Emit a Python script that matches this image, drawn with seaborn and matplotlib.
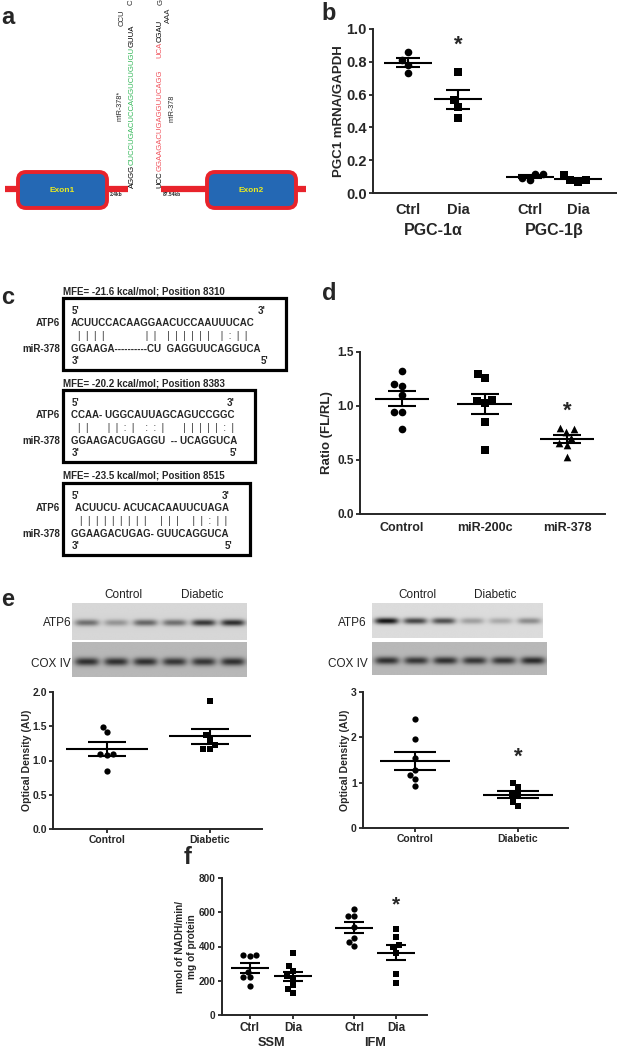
import numpy as np
import pandas as pd
import matplotlib
matplotlib.use("Agg")
import matplotlib.pyplot as plt
import seaborn as sns
from matplotlib.patches import FancyBboxPatch, Rectangle

# ---------------- data ----------------
# b: PGC1 mRNA / GAPDH
pgc_ticks = ["Ctrl", "Dia", "Ctrl", "Dia"]
pgc_genes = ["PGC-1\u03b1", "PGC-1\u03b2"]
pgc_ctrl_a = [0.86, 0.81, 0.73, 0.78]
pgc_dia_a = [0.735, 0.567, 0.527, 0.455]
pgc_ctrl_b = [0.114, 0.082, 0.090, 0.114]
pgc_dia_b = [0.082, 0.067, 0.082, 0.108]

# d: luciferase ratio (FL/RL)
luc_groups = ["Control", "miR-200c", "miR-378"]
luc_control = [1.32, 1.20, 1.185, 1.10, 0.94, 0.94, 0.785]
luc_mir200c = [1.295, 1.255, 1.06, 1.025, 1.05, 0.855, 0.595]
luc_mir378 = [0.80, 0.785, 0.755, 0.70, 0.655, 0.64, 0.53]

# e: ATP6 optical density, left (SSM) and right (IFM) blots
od_groups = ["Control", "Diabetic"]
od_left_control = [1.42, 1.49, 1.08, 1.09, 1.09, 0.85]
od_left_diabetic = [1.87, 1.37, 1.30, 1.23, 1.17, 1.17]
od_right_control = [2.41, 1.96, 1.54, 1.27, 1.16, 1.07, 0.93]
od_right_diabetic = [0.99, 0.90, 0.74, 0.72, 0.57, 0.48]

# band strength per lane (3 control, 3 diabetic)
blot_left_atp6 = [0.55, 0.35, 0.6, 0.55, 0.85, 0.9]
blot_left_cox = [0.75, 0.75, 0.75, 0.72, 0.72, 0.75]
blot_right_atp6 = [1.0, 0.75, 0.7, 0.3, 0.25, 0.4]
blot_right_cox = [0.75, 0.72, 0.75, 0.72, 0.72, 0.78]

# f: NADH oxidation
nadh_ticks = ["Ctrl", "Dia", "Ctrl", "Dia"]
nadh_fractions = ["SSM", "IFM"]
nadh_ssm_ctrl = [351, 351, 345, 254, 224, 220, 172]
nadh_ssm_dia = [364, 288, 259, 216, 228, 175, 152, 127]
nadh_ifm_ctrl = [619, 580, 580, 512, 452, 425, 403]
nadh_ifm_dia = [502, 454, 409, 395, 364, 240, 185]

# c: predicted ATP6 / miR-378 hybrids
hyb_mfe = ["MFE= -21.6 kcal/mol; Position 8310",
           "MFE= -20.2 kcal/mol; Position 8383",
           "MFE= -23.5 kcal/mol; Position 8515"]
hyb_atp6 = ["ACUUCCACAAGGAACUCCAAUUUCAC",
            "CCAA- UGGCAUUAGCAGUCCGGC",
            "ACUUCU- ACUCACAAUUCUAGA"]
hyb_pairs = ["|  |  |  |               |  |    |  |  |  |  |  |    |  :  |  |",
             "|  |       |  |  :  |    :  :  |       |  |  |  |  |  :  |",
             "|  |  |  |  |  |  |  |  |     |  |  |     |  |  :  |  |"]
hyb_mir = ["GGAAGA----------CU  GAGGUUCAGGUCA",
           "GGAAGACUGAGGU  -- UCAGGUCA",
           "GGAAGACUGAG- GUUCAGGUCA"]

# a: pre-miR-378 hairpin
seq_star = [("AGGG", "black"), ("CUCCUGACUCCAGGUCUGUGU", "#35b85a"), ("GUUA", "black")]
seq_mature = [("UCC", "black"), ("GGAAGACUGAGGUUCAGG", "#f0525c")]
seq_mature_top = [("UCA", "#f0525c"), ("CGAU", "black")]

# ---------------- layout ----------------
sns.set_style("ticks")
plt.rcParams["font.family"] = ["Liberation Sans", "DejaVu Sans"]
plt.rcParams["axes.linewidth"] = 1.4

W, H = 617, 1050
fig = plt.figure(figsize=(W / 100, H / 100), dpi=100)
ov = fig.add_axes([0, 0, 1, 1])
ov.set_xlim(0, W)
ov.set_ylim(H, 0)
ov.axis("off")
renderer = fig.canvas.get_renderer()

RED = "#e8232b"


def px_axes(l, t, r, b):
    return fig.add_axes([l / W, 1 - b / H, (r - l) / W, (b - t) / H])


def dot_panel(ax, groups, pos, markers, size, half, cap):
    for vals, p, m in zip(groups, pos, markers):
        df = pd.DataFrame({"x": [p] * len(vals), "y": vals})
        sns.swarmplot(data=df, x="x", y="y", native_scale=True, orient="x",
                      marker=m, color="black", size=size, ax=ax, zorder=2)
        mean = np.mean(vals)
        sem = np.std(vals, ddof=1) / np.sqrt(len(vals))
        ax.hlines(mean, p - half, p + half, color="black", lw=1.5, zorder=3)
        ax.errorbar(p, mean, yerr=sem, fmt="none", ecolor="black", elinewidth=1.5,
                    capsize=cap, capthick=1.5, zorder=3)


def finish(ax, xlim, ylim, yticks, ylabels, pos, xlabels, xsize, ysize,
           xlen, xpad, ylabel, lsize, lx):
    sns.despine(ax=ax)
    ax.set_xlim(*xlim)
    ax.set_ylim(*ylim)
    ax.set_xticks(pos)
    ax.set_xticklabels(xlabels, fontsize=xsize, fontweight="bold")
    ax.set_yticks(yticks)
    ax.set_yticklabels(ylabels, fontsize=ysize, fontweight="bold")
    ax.tick_params(axis="x", length=xlen, width=1.3, pad=xpad)
    ax.tick_params(axis="y", length=3, width=1.3, pad=1.5)
    ax.set_xlabel("")
    ax.set_ylabel(ylabel, fontsize=lsize, fontweight="bold")
    ax.yaxis.set_label_coords(lx, 0.5)


def vtext(x, y, pieces, size):
    for s, c in pieces:
        t = ov.text(x, y, s, rotation=90, rotation_mode="anchor", ha="left",
                    va="center", fontsize=size, color=c)
        y -= t.get_window_extent(renderer=renderer).height
    return y


def blot(l, t, r, b, bands, bg, depth, thick, row):
    ax = px_axes(l, t, r, b)
    h, w = 40, 180
    yy = np.arange(h)[:, None]
    xx = np.arange(w)[None, :]
    img = np.full((h, w), bg)
    for i, a in enumerate(bands):
        cx = (i + 0.5) * w / len(bands)
        lane = np.exp(-((xx - cx) / 12.5) ** 4)
        band = np.exp(-((yy - row * h) / thick) ** 2)
        img = img - depth * a * lane * band
    ax.imshow(img, cmap="gray", vmin=0, vmax=1, aspect="auto", interpolation="bicubic")
    ax.axis("off")


pair_pos = [0, 1, 2.43, 3.4]

# ---------------- a ----------------
ov.text(1, 17, "a", fontsize=17, fontweight="bold", va="center")
ov.plot([5, 128], [189, 189], color=RED, lw=4.5, solid_capstyle="butt", zorder=1)
ov.plot([161, 306], [189, 189], color=RED, lw=4.5, solid_capstyle="butt", zorder=1)
for x0, name in [(18, "Exon1"), (207, "Exon2")]:
    ov.add_patch(FancyBboxPatch((x0, 172), 89, 36, boxstyle="round,pad=0,rounding_size=8",
                                facecolor="#2468b4", edgecolor=RED, lw=2.8, zorder=2))
    ov.text(x0 + 44.5, 190, name, ha="center", va="center", fontsize=6,
            fontweight="bold", color="#ecec1e", zorder=3)
ov.text(110, 195, "2.4kb", fontsize=3.5, fontweight="bold", va="center")
ov.text(163, 195, "87.54kb", fontsize=3.5, fontweight="bold", va="center")
vtext(132, 188, seq_star, 5.6)
y_top = vtext(160, 188, seq_mature, 5.6)
vtext(160, y_top - 12, seq_mature_top, 5.6)
ov.text(122, 26, "CCU", rotation=90, rotation_mode="anchor", ha="left", va="center", fontsize=5.6)
ov.text(131, 5, "C", rotation=90, rotation_mode="anchor", ha="left", va="center", fontsize=5.6)
ov.text(161, 5, "G", rotation=90, rotation_mode="anchor", ha="left", va="center", fontsize=5.6)
ov.text(168, 23, "AAA", rotation=90, rotation_mode="anchor", ha="left", va="center", fontsize=5.6)
ov.text(120, 121, "miR-378*", rotation=90, rotation_mode="anchor", ha="left", va="center", fontsize=5.2)
ov.text(172, 122, "miR-378", rotation=90, rotation_mode="anchor", ha="left", va="center", fontsize=5.2)

# ---------------- b ----------------
ov.text(321, 14, "b", fontsize=17, fontweight="bold", va="center")
axb = px_axes(373, 29, 617, 193)
dot_panel(axb, [pgc_ctrl_a, pgc_dia_a, pgc_ctrl_b, pgc_dia_b], pair_pos,
          ["o", "s", "o", "s"], 5.5, 0.48, 8.5)
finish(axb, (-0.7, 4.18), (0, 1.0), np.arange(0, 1.01, 0.2),
       [f"{v:.1f}" for v in np.arange(0, 1.01, 0.2)], pair_pos, pgc_ticks,
       10.5, 10.5, 0, 7, "PGC1 mRNA/GAPDH", 9.5, -0.115)
axb.text(1, 0.9, "*", ha="center", va="center", fontsize=16, fontweight="bold")
for i, g in enumerate(pgc_genes):
    axb.text(np.mean(pair_pos[2 * i:2 * i + 2]), -0.23, g, transform=axb.get_xaxis_transform(),
             ha="center", va="center", fontsize=11.5, fontweight="bold")

# ---------------- c ----------------
ov.text(1, 297, "c", fontsize=17, fontweight="bold", va="center")
box_tops = [298, 390, 483]
box_rights = [286, 255, 250]
for k in range(3):
    t0 = box_tops[k]
    ov.add_patch(Rectangle((63, t0), box_rights[k] - 63, 72, fill=False, lw=2.3, edgecolor="black"))
    ov.text(63, t0 - 7, hyb_mfe[k], fontsize=7, fontweight="bold", va="center")
    ov.text(72, t0 + 13, "5'", fontsize=7, fontweight="bold", va="center")
    ov.text(box_rights[k] - 28, t0 + 13, "3'", fontsize=7, fontweight="bold", va="center")
    ov.text(72, t0 + 63, "3'", fontsize=7, fontweight="bold", va="center")
    ov.text(box_rights[k] - 25, t0 + 63, "5'", fontsize=7, fontweight="bold", va="center")
    ov.text(71 + 4 * (k == 2), t0 + 25, hyb_atp6[k], fontsize=7, fontweight="bold", va="center")
    ov.text(78 + 2 * (k == 2), t0 + 38, hyb_pairs[k], fontsize=7, va="center")
    ov.text(71, t0 + 51, hyb_mir[k], fontsize=7, fontweight="bold", va="center")
    ov.text(60, t0 + 25, "ATP6", fontsize=7, fontweight="bold", va="center", ha="right")
    ov.text(60, t0 + 51, "miR-378", fontsize=7, fontweight="bold", va="center", ha="right")

# ---------------- d ----------------
ov.text(322, 294, "d", fontsize=17, fontweight="bold", va="center")
axd = px_axes(360, 352, 605, 514)
dot_panel(axd, [luc_control, luc_mir200c, luc_mir378], [0, 1, 2],
          ["o", "s", "^"], 5.5, 0.33, 10)
finish(axd, (-0.51, 2.46), (0, 1.5), [0, 0.5, 1.0, 1.5], ["0.0", "0.5", "1.0", "1.5"],
       [0, 1, 2], luc_groups, 9, 8.5, 0, 6, "Ratio (FL/RL)", 9.5, -0.11)
axd.text(2, 0.95, "*", ha="center", va="center", fontsize=16, fontweight="bold")

# ---------------- e ----------------
ov.text(1, 600, "e", fontsize=17, fontweight="bold", va="center")
blot(72, 603, 247, 640, blot_left_atp6, 0.84, 0.75, 3.5, 0.52)
blot(72, 642, 247, 677, blot_left_cox, 0.72, 0.72, 4.5, 0.55)
blot(372, 603, 543, 638, blot_right_atp6, 0.86, 0.8, 3.5, 0.5)
blot(372, 642, 547, 675, blot_right_cox, 0.72, 0.72, 4.5, 0.55)
for x_ctrl, x_dia, x_atp, x_cox in [(123, 202, 57, 51), (417, 495, 352, 348)]:
    ov.text(x_ctrl, 595, "Control", fontsize=8.5, ha="center", va="center", color="#222222")
    ov.text(x_dia, 595, "Diabetic", fontsize=8.5, ha="center", va="center", color="#222222")
    ov.text(x_atp, 623, "ATP6", fontsize=8.5, ha="center", va="center", color="#222222")
    ov.text(x_cox, 664, "COX IV", fontsize=8.5, ha="center", va="center", color="#222222")

axe1 = px_axes(53, 692, 262, 829)
dot_panel(axe1, [od_left_control, od_left_diabetic], [0, 1], ["o", "s"], 4.5, 0.4, 14)
finish(axe1, (-0.524, 1.505), (0, 2.0), [0, 0.5, 1.0, 1.5, 2.0],
       ["0.0", "0.5", "1.0", "1.5", "2.0"], [0, 1], od_groups, 7.5, 7.5, 3, 1.5,
       "Optical Density (AU)", 7.6, -0.1)

axe2 = px_axes(363, 692, 568, 828)
dot_panel(axe2, [od_right_control, od_right_diabetic], [0, 1], ["o", "s"], 4.5, 0.34, 15)
finish(axe2, (-0.505, 1.485), (0, 3), [0, 1, 2, 3], ["0", "1", "2", "3"],
       [0, 1], od_groups, 7.5, 7.5, 3, 1.5, "Optical Density (AU)", 7.6, -0.063)
axe2.text(1, 1.57, "*", ha="center", va="center", fontsize=16, fontweight="bold")

# ---------------- f ----------------
ov.text(184, 857, "f", fontsize=17, fontweight="bold", va="center")
axf = px_axes(222, 878, 427, 1015)
dot_panel(axf, [nadh_ssm_ctrl, nadh_ssm_dia, nadh_ifm_ctrl, nadh_ifm_dia], pair_pos,
          ["o", "s", "o", "s"], 4.5, 0.44, 7)
finish(axf, (-0.65, 4.12), (0, 800), [0, 200, 400, 600, 800], ["0", "200", "400", "600", "800"],
       pair_pos, nadh_ticks, 8.4, 7.2, 3, 2, "nmol of NADH/min/\nmg of protein", 7.3, -0.122)
axf.text(3.4, 643, "*", ha="center", va="center", fontsize=15, fontweight="bold")
for i, g in enumerate(nadh_fractions):
    axf.text(np.mean(pair_pos[2 * i:2 * i + 2]), -0.204, g, transform=axf.get_xaxis_transform(),
             ha="center", va="center", fontsize=9.2, fontweight="bold")

fig.savefig("out.png", dpi=100)
